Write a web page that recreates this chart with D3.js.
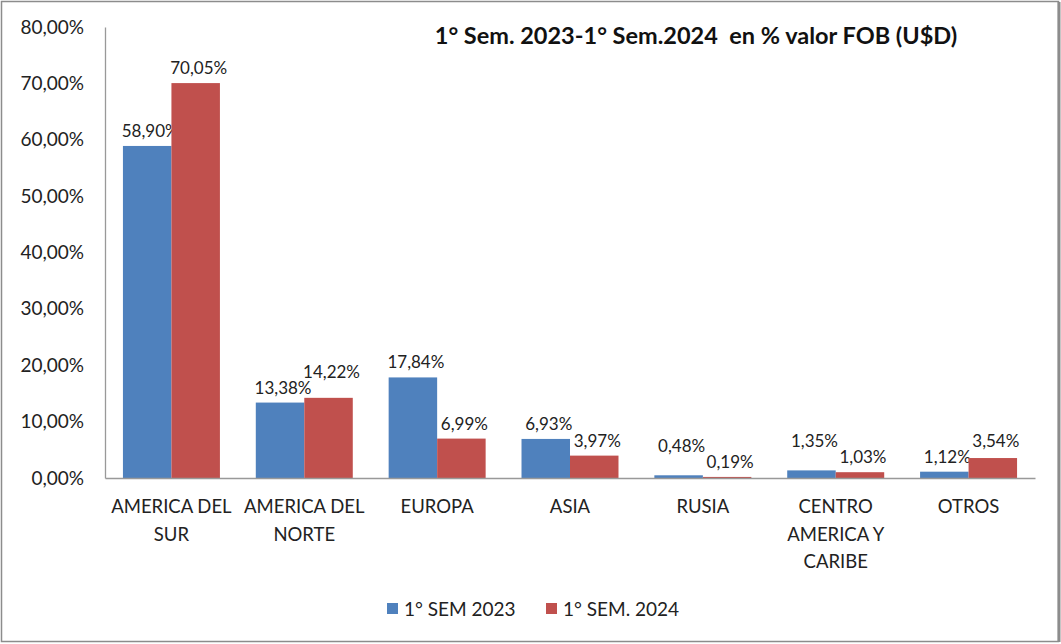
<!DOCTYPE html>
<html>
<head>
<meta charset="utf-8">
<script src="https://cdn.jsdelivr.net/npm/d3@7"></script>
<style>
  body { margin: 0; background: #fff; }
  svg, svg text { font-family: Lato, "Open Sans", sans-serif; }
</style>
</head>
<body>
<svg id="chart"></svg>
<script>
var WIDTH = 1061;
var HEIGHT = 644;

var title = '1° Sem. 2023-1° Sem.2024  en % valor FOB (U$D)';
var categories = [
  ['AMERICA DEL', 'SUR'],
  ['AMERICA DEL', 'NORTE'],
  ['EUROPA'],
  ['ASIA'],
  ['RUSIA'],
  ['CENTRO', 'AMERICA Y', 'CARIBE'],
  ['OTROS']
];
var seriesNames = ['1° SEM 2023', '1° SEM. 2024'];
var sem2023 = [58.90, 13.38, 17.84, 6.93, 0.48, 1.35, 1.12];
var sem2024 = [70.05, 14.22, 6.99, 3.97, 0.19, 1.03, 3.54];
var yTicks = [0, 10, 20, 30, 40, 50, 60, 70, 80];
var colors = ['#4F81BD', '#C0504D'];

var fmt = function(v){ return v.toFixed(2).replace('.', ',') + '%'; };

var svg = d3.select('#chart')
  .attr('width', WIDTH)
  .attr('height', HEIGHT);

// outer frame
svg.append('rect')
  .attr('x', 1.5).attr('y', 1.5)
  .attr('width', WIDTH - 4).attr('height', HEIGHT - 4)
  .attr('fill', '#fff')
  .attr('stroke', '#8c8c8c')
  .attr('stroke-width', 1.5);
svg.append('line')
  .attr('x1', WIDTH - 2).attr('x2', WIDTH - 2)
  .attr('y1', 2).attr('y2', HEIGHT - 2)
  .attr('stroke', '#8c8c8c').attr('stroke-width', 3);

var margin = {left: 105, right: 26, top: 27, bottom: 166};

var xScale = d3.scaleBand()
  .domain(d3.range(categories.length))
  .range([margin.left, WIDTH - margin.right])
  .paddingInner(0.27)
  .paddingOuter(0.135);

var xSub = d3.scaleBand()
  .domain([0, 1])
  .range([0, xScale.bandwidth()]);

var yScale = d3.scaleLinear()
  .domain([0, 80])
  .range([HEIGHT - margin.bottom, margin.top]);

// y axis
var leftAxis = d3.axisLeft(yScale)
  .tickValues(yTicks)
  .tickSize(0)
  .tickPadding(21)
  .tickFormat(fmt);
var yAxis = svg.append('g')
  .attr('id', 'y-axis')
  .attr('transform', 'translate(' + margin.left + ',0)')
  .call(leftAxis)
  .attr('font-family', null)
  .attr('font-size', null);
yAxis.select('.domain').attr('stroke', '#999').attr('stroke-width', 1.3);
yAxis.selectAll('text')
  .attr('font-size', 19)
  .attr('fill', '#222');

// label y: push the taller bar's label up when the two labels of a group collide
var labelY = function(s, i){
  var own = yScale([sem2023, sem2024][s][i]) - 9;
  var other = yScale([sem2023, sem2024][1 - s][i]) - 9;
  if (Math.abs(own - other) < 16 && own <= other) {
    return other - 16;
  }
  return own;
};

// bars
var series = [sem2023, sem2024];
series.forEach(function(values, s){
  var g = svg.append('g').attr('class', 'series-' + s);
  g.selectAll('rect')
    .data(values)
    .enter()
    .append('rect')
    .attr('x', function(d, i){ return xScale(i) + xSub(s); })
    .attr('width', xSub.bandwidth())
    .attr('y', function(d){ return yScale(d); })
    .attr('height', function(d){ return yScale(0) - yScale(d); })
    .attr('fill', colors[s]);

  g.selectAll('text')
    .data(values)
    .enter()
    .append('text')
    .attr('x', function(d, i){ return xScale(i) + xSub(s) + xSub.bandwidth() / 2 + 3; })
    .attr('y', function(d, i){ return labelY(s, i); })
    .attr('text-anchor', 'middle')
    .attr('font-size', 17)
    .attr('fill', '#222')
    .text(fmt);
});

// x axis
var bottomAxis = d3.axisBottom(xScale).tickSize(0).tickFormat('');
var xAxis = svg.append('g')
  .attr('id', 'x-axis')
  .attr('transform', 'translate(0,' + yScale(0) + ')')
  .call(bottomAxis);
xAxis.select('.domain').attr('stroke', '#999').attr('stroke-width', 1.3);

var catLabels = svg.append('g').attr('id', 'cat-labels');
catLabels.selectAll('text')
  .data(categories)
  .enter()
  .append('text')
  .attr('x', function(d, i){ return xScale(i) + xScale.bandwidth() / 2; })
  .attr('y', yScale(0) + 35)
  .attr('text-anchor', 'middle')
  .attr('font-size', 18.5)
  .attr('fill', '#222')
  .each(function(lines){
    var t = d3.select(this);
    lines.forEach(function(line, k){
      t.append('tspan')
        .attr('x', t.attr('x'))
        .attr('dy', k === 0 ? 0 : 27.5)
        .text(line);
    });
  });

// title
svg.append('text')
  .attr('x', 696)
  .attr('y', 44)
  .attr('text-anchor', 'middle')
  .attr('font-size', 23.5)
  .attr('font-weight', 'bold')
  .attr('fill', '#111')
  .style('white-space', 'pre')
  .text(title);

// legend
var legendX = [387, 546];
var legend = svg.append('g').attr('id', 'legend');
seriesNames.forEach(function(name, s){
  legend.append('rect')
    .attr('x', legendX[s]).attr('y', 603)
    .attr('width', 11).attr('height', 11)
    .attr('fill', colors[s]);
  legend.append('text')
    .attr('x', legendX[s] + 17).attr('y', 616)
    .attr('font-size', 19)
    .attr('fill', '#222')
    .text(name);
});
</script>
</body>
</html>
